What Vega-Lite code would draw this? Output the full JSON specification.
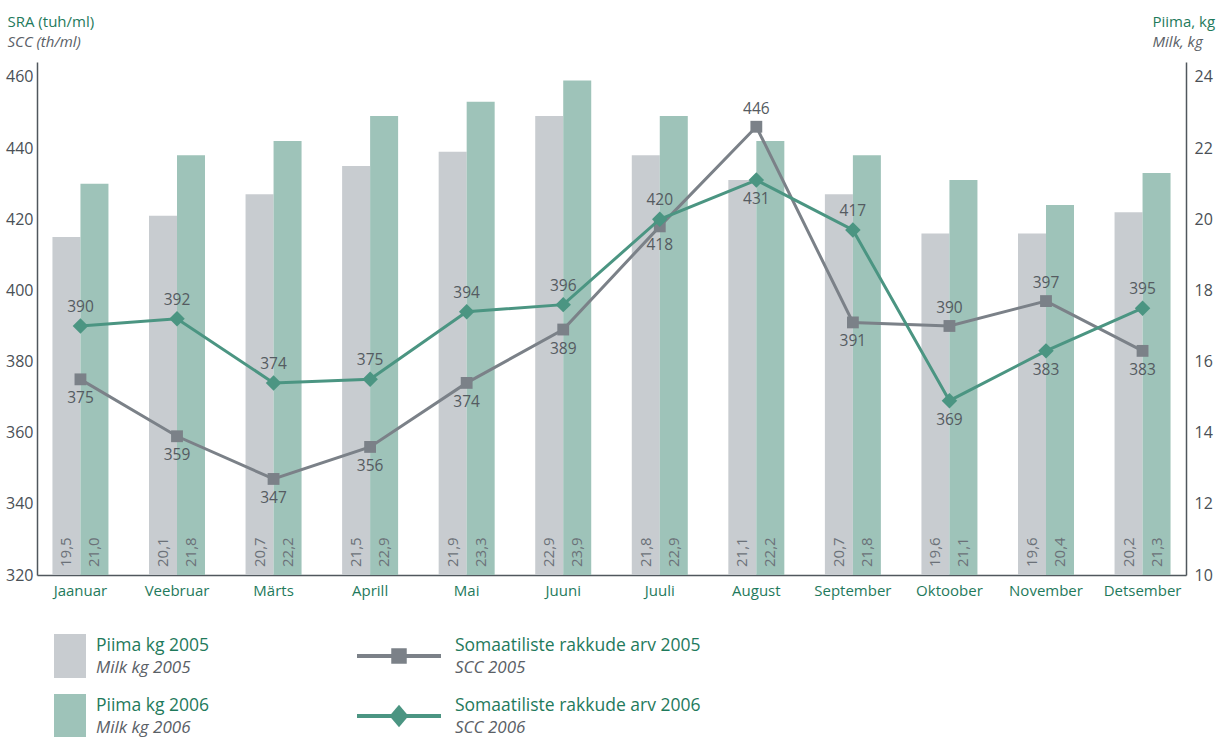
{
  "$schema": "https://vega.github.io/schema/vega-lite/v6.json",
  "padding": {"left": 5, "top": 14, "right": 8, "bottom": 0},
  "background": "white",
  "config": {
    "font": "Open Sans",
    "view": {"stroke": null},
    "axis": {"grid": false, "labelFont": "Open Sans", "titleFont": "Open Sans"},
    "text": {"font": "Open Sans"}
  },
  "datasets": {
    "monthly": [
      {"month": "Jaanuar", "m2005": 19.5, "m2006": 21.0, "s2005": 375, "s2006": 390},
      {"month": "Veebruar", "m2005": 20.1, "m2006": 21.8, "s2005": 359, "s2006": 392},
      {"month": "Märts", "m2005": 20.7, "m2006": 22.2, "s2005": 347, "s2006": 374},
      {"month": "Aprill", "m2005": 21.5, "m2006": 22.9, "s2005": 356, "s2006": 375},
      {"month": "Mai", "m2005": 21.9, "m2006": 23.3, "s2005": 374, "s2006": 394},
      {"month": "Juuni", "m2005": 22.9, "m2006": 23.9, "s2005": 389, "s2006": 396},
      {"month": "Juuli", "m2005": 21.8, "m2006": 22.9, "s2005": 418, "s2006": 420},
      {"month": "August", "m2005": 21.1, "m2006": 22.2, "s2005": 446, "s2006": 431},
      {"month": "September", "m2005": 20.7, "m2006": 21.8, "s2005": 391, "s2006": 417},
      {"month": "Oktoober", "m2005": 19.6, "m2006": 21.1, "s2005": 390, "s2006": 369},
      {"month": "November", "m2005": 19.6, "m2006": 20.4, "s2005": 397, "s2006": 383},
      {"month": "Detsember", "m2005": 20.2, "m2006": 21.3, "s2005": 383, "s2006": 395}
    ],
    "legend": [
      {"kind": "bar", "yr": "2005", "item": "b2005", "key": "Piima kg 2005", "sub": "Milk kg 2005"},
      {"kind": "bar", "yr": "2006", "item": "b2006", "key": "Piima kg 2006", "sub": "Milk kg 2006"},
      {"kind": "line", "yr": "2005", "item": "l2005", "key": "Somaatiliste rakkude arv 2005", "sub": "SCC 2005"},
      {"kind": "line", "yr": "2006", "item": "l2006", "key": "Somaatiliste rakkude arv 2006", "sub": "SCC 2006"}
    ]
  },
  "spacing": 36,
  "vconcat": [
    {
      "width": 1149,
      "height": 513,
      "data": {"name": "monthly"},
      "layer": [
        {
          "transform": [{"fold": ["m2005", "m2006"], "as": ["series", "milk"]}],
          "layer": [
            {
              "mark": {"type": "bar"},
              "encoding": {
                "x": {
                  "field": "month", "type": "nominal", "sort": null,
                  "scale": {"paddingInner": 0.42, "paddingOuter": 0.16},
                  "axis": {"title": null, "orient": "bottom", "ticks": false, "labelAngle": 0,
                    "labelColor": "#1f7a5c", "labelFontSize": 15, "labelPadding": 8, "labelOverlap": false,
                    "domainColor": "#50575d", "domainWidth": 1.5}
                },
                "xOffset": {"field": "series", "type": "nominal", "scale": {"paddingInner": 0, "paddingOuter": 0}},
                "y": {
                  "field": "milk", "type": "quantitative",
                  "scale": {"domain": [10, 24.42], "nice": false, "zero": false},
                  "axis": {"orient": "right", "values": [10, 12, 14, 16, 18, 20, 22, 24], "ticks": false,
                    "domainColor": "#50575d", "domainWidth": 1.5, "labelColor": "#4a5056", "labelFontSize": 16,
                    "labelPadding": 8, "title": "Piima, kg", "titleAngle": 0, "titleAlign": "left",
                    "titleBaseline": "alphabetic", "titleX": -34, "titleY": -36, "titleColor": "#1f7a5c",
                    "titleFontSize": 15, "titleFontWeight": 500}
                },
                "y2": {"datum": 10},
                "color": {"field": "series", "type": "nominal",
                  "scale": {"domain": ["m2005", "m2006"], "range": ["#c8ccd0", "#9ec3b9"]}, "legend": null}
              }
            },
            {
              "transform": [{"calculate": "replace(format(datum.milk, '.1f'), '.', ',')", "as": "lbl"}],
              "mark": {"type": "text", "angle": 270, "align": "left", "baseline": "middle", "dx": 8,
                "fontSize": 15, "color": "#6b7178"},
              "encoding": {
                "x": {"field": "month", "type": "nominal", "sort": null},
                "xOffset": {"field": "series", "type": "nominal"},
                "y": {"datum": 10, "type": "quantitative"},
                "text": {"field": "lbl"}
              }
            }
          ]
        },
        {
          "layer": [
            {
              "mark": {"type": "line", "color": "#7b8188", "strokeWidth": 3},
              "encoding": {
                "x": {"field": "month", "type": "nominal", "sort": null},
                "y": {
                  "field": "s2005", "type": "quantitative",
                  "scale": {"domain": [320, 464.2], "nice": false, "zero": false},
                  "axis": {"orient": "left", "values": [320, 340, 360, 380, 400, 420, 440, 460], "ticks": false,
                    "domainColor": "#50575d", "domainWidth": 1.5, "labelColor": "#4a5056", "labelFontSize": 16,
                    "labelPadding": 4, "title": "SRA (tuh/ml)", "titleAngle": 0, "titleAlign": "left",
                    "titleBaseline": "alphabetic", "titleX": -30, "titleY": -36, "titleColor": "#1f7a5c",
                    "titleFontSize": 15, "titleFontWeight": 500}
                }
              }
            },
            {
              "mark": {"type": "point", "shape": "square", "filled": true, "size": 140, "color": "#7b8188", "opacity": 1},
              "encoding": {
                "x": {"field": "month", "type": "nominal", "sort": null},
                "y": {"field": "s2005", "type": "quantitative"}
              }
            },
            {
              "mark": {"type": "line", "color": "#4b9582", "strokeWidth": 3},
              "encoding": {
                "x": {"field": "month", "type": "nominal", "sort": null},
                "y": {"field": "s2006", "type": "quantitative"}
              }
            },
            {
              "mark": {"type": "point", "shape": "diamond", "filled": true, "size": 240, "color": "#4b9582", "opacity": 1},
              "encoding": {
                "x": {"field": "month", "type": "nominal", "sort": null},
                "y": {"field": "s2006", "type": "quantitative"}
              }
            },
            {
              "transform": [{"filter": "datum.s2005 > datum.s2006"}],
              "mark": {"type": "text", "dy": -18, "baseline": "middle", "fontSize": 15.5, "color": "#555b61"},
              "encoding": {
                "x": {"field": "month", "type": "nominal", "sort": null},
                "y": {"field": "s2005", "type": "quantitative"},
                "text": {"field": "s2005"}
              }
            },
            {
              "transform": [{"filter": "datum.s2005 <= datum.s2006"}],
              "mark": {"type": "text", "dy": 19, "baseline": "middle", "fontSize": 15.5, "color": "#555b61"},
              "encoding": {
                "x": {"field": "month", "type": "nominal", "sort": null},
                "y": {"field": "s2005", "type": "quantitative"},
                "text": {"field": "s2005"}
              }
            },
            {
              "transform": [{"filter": "datum.s2006 > datum.s2005"}],
              "mark": {"type": "text", "dy": -19, "baseline": "middle", "fontSize": 15.5, "color": "#555b61"},
              "encoding": {
                "x": {"field": "month", "type": "nominal", "sort": null},
                "y": {"field": "s2006", "type": "quantitative"},
                "text": {"field": "s2006"}
              }
            },
            {
              "transform": [{"filter": "datum.s2006 <= datum.s2005"}],
              "mark": {"type": "text", "dy": 19, "baseline": "middle", "fontSize": 15.5, "color": "#555b61"},
              "encoding": {
                "x": {"field": "month", "type": "nominal", "sort": null},
                "y": {"field": "s2006", "type": "quantitative"},
                "text": {"field": "s2006"}
              }
            }
          ]
        },
        {
          "mark": {"type": "point", "opacity": 0},
          "encoding": {
            "x": {"field": "month", "type": "nominal", "sort": null},
            "y": {"datum": 320, "type": "quantitative",
              "scale": {"domain": [320, 464.2], "nice": false, "zero": false},
              "axis": {"orient": "left", "labels": false, "ticks": false, "domain": false, "grid": false,
                "title": "SCC (th/ml)", "titleAngle": 0, "titleAlign": "left", "titleBaseline": "alphabetic",
                "titleX": -30, "titleY": -16, "titleFontStyle": "italic", "titleColor": "#5a6066",
                "titleFontWeight": "normal", "titleFontSize": 15}
            }
          }
        },
        {
          "mark": {"type": "point", "opacity": 0},
          "encoding": {
            "x": {"field": "month", "type": "nominal", "sort": null},
            "y": {"datum": 10, "type": "quantitative",
              "scale": {"domain": [10, 24.42], "nice": false, "zero": false},
              "axis": {"orient": "right", "labels": false, "ticks": false, "domain": false, "grid": false,
                "title": "Milk, kg", "titleAngle": 0, "titleAlign": "left", "titleBaseline": "alphabetic",
                "titleX": -34, "titleY": -16, "titleFontStyle": "italic", "titleColor": "#5a6066",
                "titleFontWeight": "normal", "titleFontSize": 15}
            }
          }
        }
      ],
      "resolve": {"scale": {"y": "independent"}}
    },
    {
      "width": 718,
      "height": 60,
      "data": {"name": "legend"},
      "encoding": {
        "x": {"field": "kind", "type": "nominal", "bandPosition": 0,
          "scale": {"type": "band", "domain": ["bar", "line"], "paddingInner": 0, "paddingOuter": 0}, "axis": null},
        "y": {"field": "yr", "type": "nominal",
          "scale": {"type": "point", "domain": ["2005", "2006"], "padding": 0}, "axis": null}
      },
      "layer": [
        {
          "transform": [{"filter": "datum.item === 'b2005'"}],
          "mark": {"type": "point", "shape": "M-0.727,-1H0.727V1H-0.727Z", "filled": true, "size": 1936,
            "xOffset": 33, "opacity": 1, "strokeWidth": 0, "color": "#c8ccd0"}
        },
        {
          "transform": [{"filter": "datum.item === 'b2006'"}],
          "mark": {"type": "point", "shape": "M-0.727,-1H0.727V1H-0.727Z", "filled": true, "size": 1936,
            "xOffset": 33, "opacity": 1, "strokeWidth": 0, "color": "#9ec3b9"}
        },
        {
          "transform": [{"filter": "datum.item === 'l2005'"}],
          "mark": {"type": "point", "shape": "M-1,-0.05H1V0.05H-1Z", "filled": true, "size": 7056,
            "xOffset": 3, "opacity": 1, "strokeWidth": 0, "color": "#7b8188"}
        },
        {
          "transform": [{"filter": "datum.item === 'l2006'"}],
          "mark": {"type": "point", "shape": "M-1,-0.05H1V0.05H-1Z", "filled": true, "size": 7056,
            "xOffset": 3, "opacity": 1, "strokeWidth": 0, "color": "#4b9582"}
        },
        {
          "transform": [{"filter": "datum.item === 'l2005'"}],
          "mark": {"type": "point", "shape": "square", "filled": true, "size": 240, "xOffset": 3, "opacity": 1,
            "color": "#7b8188"}
        },
        {
          "transform": [{"filter": "datum.item === 'l2006'"}],
          "mark": {"type": "point", "shape": "M0,-1L0.85,0L0,1L-0.85,0Z", "filled": true, "size": 500, "xOffset": 3,
            "opacity": 1, "strokeWidth": 0, "color": "#4b9582"}
        },
        {
          "mark": {"type": "text", "align": "left", "baseline": "middle", "xOffset": 59, "yOffset": -10,
            "fontSize": 17.5, "fontWeight": 500, "color": "#1f7a5c"},
          "encoding": {"text": {"field": "key"}}
        },
        {
          "mark": {"type": "text", "align": "left", "baseline": "middle", "xOffset": 59, "yOffset": 12,
            "fontSize": 17, "fontStyle": "italic", "color": "#5a6066"},
          "encoding": {"text": {"field": "sub"}}
        }
      ]
    }
  ]
}
